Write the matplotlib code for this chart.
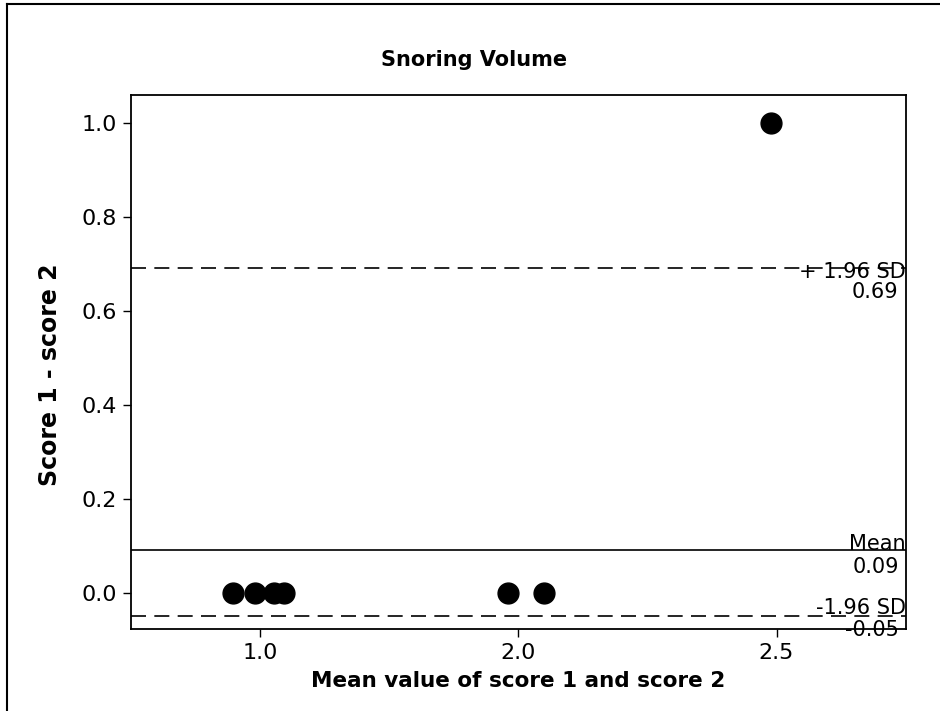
import numpy as np
import matplotlib.pyplot as plt
from matplotlib.lines import Line2D

# mean-of-scores categories on the x axis, with the horizontal jitter of each point
categories = ["1.0", "2.0", "2.5"]
point_cat = [0, 0, 0, 0, 1, 1, 2]
point_jitter = [-0.102, -0.020, 0.053, 0.095, -0.039, 0.100, -0.023]
point_diff = [0.0, 0.0, 0.0, 0.0, 0.0, 0.0, 1.0]

# limits of agreement
ref_names = ["+ 1.96 SD", "Mean", "-1.96 SD"]
ref_values = [0.69, 0.09, -0.05]
ref_styles = ["dashed", "solid", "dashed"]

yticks = [0.0, 0.2, 0.4, 0.6, 0.8, 1.0]

plt.rcParams['font.family'] = 'DejaVu Sans'

fig = plt.figure(figsize=(9.4, 7.11), dpi=100)
ax = fig.add_axes([0.139, 0.115, 0.8245, 0.752])

x = np.array(point_cat) + np.array(point_jitter)
ax.plot(x, point_diff, 'o', color='black', markersize=15, zorder=3)

for val, style in zip(ref_values, ref_styles):
    if style == "dashed":
        ax.axhline(val, color='black', lw=1.2, linestyle=(0, (9, 5)))
    else:
        ax.axhline(val, color='black', lw=1.2)

trans = ax.get_yaxis_transform()
# (name offset, value offset) in points from each line
label_offsets = {"+ 1.96 SD": (-7.0, -9.9), "Mean": (0.0, -4.5), "-1.96 SD": (1.5, -3.0)}
for name, val in zip(ref_names, ref_values):
    dn, dv = label_offsets[name]
    ax.annotate(name, xy=(1.0, val), xycoords=trans, xytext=(0, dn),
                textcoords='offset points', ha='right', va='baseline', fontsize=15,
                annotation_clip=False)
    ax.annotate(f"{val:.2f}", xy=(1.0, val), xycoords=trans, xytext=(-5, dv),
                textcoords='offset points', ha='right', va='top', fontsize=15,
                annotation_clip=False)

ax.set_xlim(-0.5, 2.5)
ax.set_ylim(-0.078, 1.06)
ax.set_xticks(range(len(categories)))
ax.set_xticklabels(categories)
ax.set_yticks(yticks)
ax.set_yticklabels([f"{t:.1f}" for t in yticks])
ax.tick_params(direction='out', length=6, width=1.0, labelsize=16, pad=4)
for s in ax.spines.values():
    s.set_linewidth(1.3)

ax.set_xlabel("Mean value of score 1 and score 2", fontsize=15.5, fontweight='bold', labelpad=6)
ax.set_ylabel("Score 1 - score 2", fontsize=17, fontweight='bold')
ax.yaxis.set_label_coords(-0.089, 0.4755)
fig.text(0.504, 0.915, "Snoring Volume", ha='center', va='center', fontsize=15, fontweight='bold')

# outer frame: left and top edges only, the rest runs off the figure
fig.add_artist(Line2D([7 / 940, 7 / 940], [0, 1 - 4 / 711], transform=fig.transFigure,
                      color='black', lw=1.5))
fig.add_artist(Line2D([7 / 940, 1], [1 - 4 / 711, 1 - 4 / 711], transform=fig.transFigure,
                      color='black', lw=1.5))

fig.savefig("out.png", dpi=100)
